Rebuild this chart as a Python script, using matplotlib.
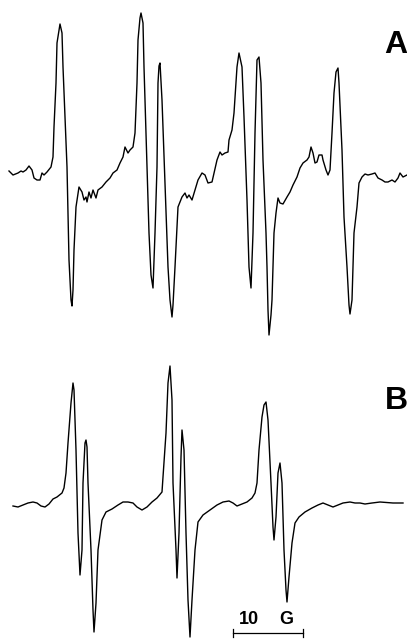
import numpy as np
import matplotlib
matplotlib.use("Agg")
import matplotlib.pyplot as plt

# traces, in pixel coords (x right, y down)
a_x = [9, 13, 18, 21, 23, 26, 29, 32, 34, 37, 40, 42, 44, 47, 51, 53, 54, 56, 57, 59,
       60, 62, 63, 67, 69, 71, 72, 73, 74, 76, 79, 82, 84, 86, 87, 89, 91, 93, 96, 98,
       102, 106, 110, 113, 117, 120, 123, 125, 128, 130, 133, 135, 137, 138, 140, 141,
       143, 144, 147, 149, 151, 153, 155, 157, 158, 159, 160, 162, 165, 168, 170, 172,
       173, 175, 178, 182, 185, 187, 189, 192, 195, 198, 202, 205, 208, 212, 214, 217,
       220, 222, 225, 228, 229, 232, 234, 237, 239, 242, 244, 247, 249, 251, 253, 255,
       257, 259, 261, 263, 266, 267, 268, 269, 271, 272, 274, 276, 278, 280, 283, 287,
       290, 293, 297, 300, 303, 307, 309, 311, 313, 315, 317, 319, 322, 323, 326, 328,
       330, 332, 334, 336, 338, 339, 342, 344, 347, 349, 350, 352, 354, 357, 359, 362,
       365, 368, 372, 375, 378, 382, 385, 388, 392, 395, 398, 400, 403, 407]
a_y = [171, 175, 173, 171, 172, 170, 166, 170, 178, 180, 180, 173, 175, 172, 167, 157, 127, 83, 43, 30,
       24, 33, 67, 167, 260, 300, 306, 290, 250, 207, 187, 192, 200, 197, 202, 192, 198, 190, 198, 190,
       187, 182, 178, 173, 170, 163, 157, 147, 153, 150, 147, 133, 83, 40, 18, 13,
       23, 67, 167, 233, 275, 288, 233, 167, 83, 66, 63, 100, 183, 267, 300, 317,
       305, 267, 207, 197, 193, 198, 195, 200, 190, 180, 173, 175, 183, 182, 173, 160,
       152, 155, 153, 152, 140, 130, 113, 67, 53, 67, 117, 200, 267, 288, 233, 133,
       60, 57, 83, 160, 233, 267, 310, 335, 315, 300, 233, 213, 198, 203, 204, 197,
       192, 185, 177, 168, 163, 160, 157, 147, 153, 163, 162, 155, 155, 160, 170, 175,
       170, 133, 93, 72, 68, 83, 150, 217, 267, 305, 314, 300, 233, 207, 183, 177,
       174, 175, 174, 173, 178, 180, 182, 182, 180, 182, 178, 173, 177, 175]

b_x = [13, 18, 23, 28, 33, 37, 41, 45, 49, 53, 57, 62, 64, 66, 68, 71, 73, 74, 76, 78,
       80, 82, 83, 85, 86, 87, 88, 91, 93, 94, 96, 98, 102, 106, 112, 118, 123, 128, 133,
       137, 142, 147, 152, 157, 162, 163, 166, 168, 170, 172, 173, 176, 177, 179, 181,
       182, 184, 186, 188, 190, 192, 195, 198, 203, 210, 217, 223, 229, 233, 237, 242,
       247, 252, 255, 257, 259, 262, 264, 266, 268, 271, 273, 274, 276, 278, 280, 282,
       284, 286, 287, 289, 292, 295, 299, 305, 312, 318, 323, 328, 333, 338, 343, 350,
       355, 360, 365, 372, 380, 393, 403]
b_y = [506, 507, 505, 503, 502, 503, 506, 507, 504, 499, 497, 493, 488, 473, 443, 403, 383, 390, 450, 533,
       575, 550, 483, 443, 440, 447, 483, 550, 610, 632, 603, 550, 520, 512, 509, 505, 502, 502, 503,
       507, 510, 507, 502, 498, 492, 477, 433, 383, 366, 400, 483, 550, 578, 533, 457,
       430, 450, 533, 600, 637, 600, 550, 522, 515, 510, 505, 502, 501, 503, 506, 504,
       502, 498, 493, 483, 450, 417, 405, 402, 420, 483, 527, 540, 517, 473, 463, 483,
       550, 590, 602, 577, 543, 523, 517, 512, 508, 505, 503, 505, 507, 505, 503, 502,
       503, 503, 504, 503, 502, 503, 503]

panel_labels = ["A", "B"]
panel_label_pos = [(396, 45), (396, 401)]
bar_words = ["10", "G"]
bar_word_x = [248.5, 286.5]
bar_x = [233, 303]
bar_y = 633

fig = plt.figure(figsize=(4.07, 6.40), dpi=100)
ax = fig.add_axes([0, 0, 1, 1])
ax.set_xlim(0, 407)
ax.set_ylim(640, 0)
ax.axis("off")

ax.plot(a_x, a_y, color="black", lw=1.0, solid_joinstyle="round")
ax.plot(b_x, b_y, color="black", lw=1.0, solid_joinstyle="round")

for lab, (lx, ly) in zip(panel_labels, panel_label_pos):
    ax.text(lx, ly, lab, fontsize=23, fontweight="bold", ha="center", va="center",
            family="Liberation Sans")

# scale bar
ax.plot(bar_x, [bar_y, bar_y], color="black", lw=0.9)
for bx in bar_x:
    ax.plot([bx, bx], [bar_y - 4, bar_y + 4], color="black", lw=0.9)
for w, wx in zip(bar_words, bar_word_x):
    ax.text(wx, bar_y - 5, w, fontsize=13, fontweight="bold", ha="center", va="bottom",
            family="Liberation Sans")

fig.savefig("out.png", dpi=100)
